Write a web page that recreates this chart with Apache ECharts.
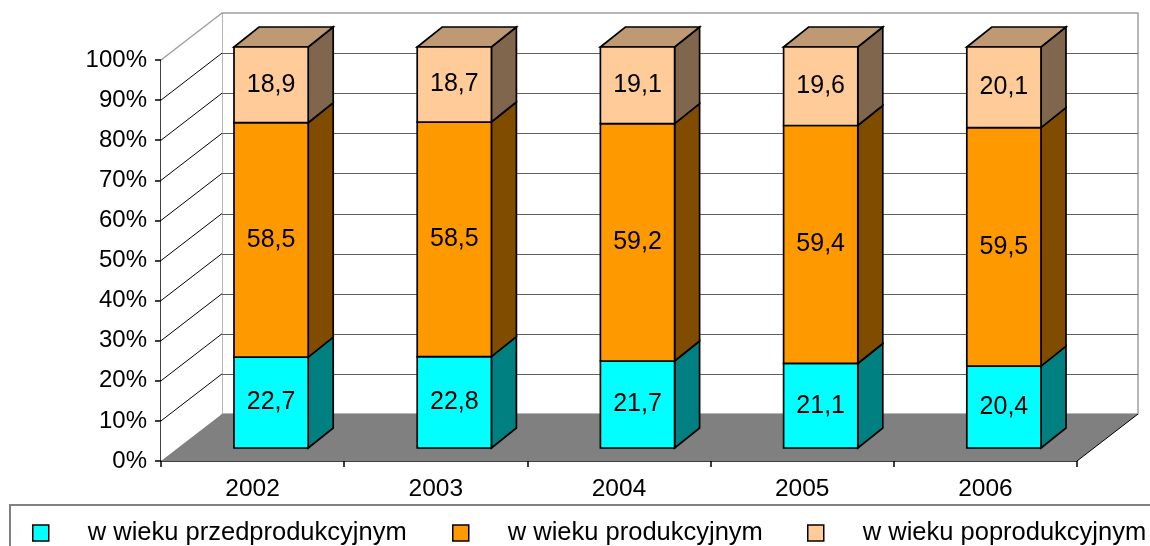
<!DOCTYPE html>
<html>
<head>
<meta charset="utf-8">
<script src="https://cdn.jsdelivr.net/npm/echarts@6/dist/echarts.min.js"></script>
<style>
html,body{margin:0;padding:0;background:#fff;}
#chart{width:1150px;height:546px;}
</style>
</head>
<body>
<div id="chart"></div>
<script>
// ---- data ----
const years = ['2002', '2003', '2004', '2005', '2006'];
const preWorking = [22.7, 22.8, 21.7, 21.1, 20.4];
const working = [58.5, 58.5, 59.2, 59.4, 59.5];
const postWorking = [18.9, 18.7, 19.1, 19.6, 20.1];
const seriesNames = ['w wieku przedprodukcyjnym', 'w wieku produkcyjnym', 'w wieku poprodukcyjnym'];
const yTicks = [0, 10, 20, 30, 40, 50, 60, 70, 80, 90, 100];

// ---- styles ----
const FONT = 'Liberation Sans, Arial, sans-serif';
const frontColors = ['#00FFFF', '#FF9900', '#FFCC99'];
const sideColors = ['#008080', '#804D00', '#80664D'];
const topColors = ['#00BFBF', '#BF7300', '#BF9973'];
const DEPTH = [61, -47];      // wall depth offset (px)
const BAR_OFF = [18.5, -13];  // bar front plane offset from axis plane
const BAR_DEPTH = [25, -20];  // bar depth
const BAR_RATIO = 0.405;

// build stacked (percent) data
const layers = [preWorking, working, postWorking];
const layerData = layers.map(() => []);
years.forEach((y, i) => {
  const total = layers.reduce((s, arr) => s + arr[i], 0);
  let cum = 0;
  layers.forEach((arr, k) => {
    const lo = cum / total * 100;
    cum += arr[i];
    const hi = cum / total * 100;
    layerData[k].push([i, lo, hi, arr[i]]);
  });
});

function makeBarRenderer(k) {
  const isTop = k === layers.length - 1;
  return function (params, api) {
    const cat = api.value(0);
    const lo = api.value(1), hi = api.value(2), raw = api.value(3);
    const pLo = api.coord([cat, lo]);
    const pHi = api.coord([cat, hi]);
    const band = api.size([1, 0])[0];
    const w = band * BAR_RATIO;
    const xl = pLo[0] - w / 2 + BAR_OFF[0];
    const xr = xl + w;
    const yb = pLo[1] + BAR_OFF[1];
    const yt = pHi[1] + BAR_OFF[1];
    const dx = BAR_DEPTH[0], dy = BAR_DEPTH[1];
    const stroke = { stroke: '#000', lineWidth: 1.7, lineJoin: 'miter' };
    const children = [
      { type: 'polygon', shape: { points: [[xr, yb], [xr + dx, yb + dy], [xr + dx, yt + dy], [xr, yt]] },
        style: Object.assign({ fill: sideColors[k] }, stroke) }
    ];
    if (isTop) {
      children.push({ type: 'polygon', shape: { points: [[xl, yt], [xl + dx, yt + dy], [xr + dx, yt + dy], [xr, yt]] },
        style: Object.assign({ fill: topColors[k] }, stroke) });
    }
    children.push({ type: 'rect', shape: { x: xl, y: yt, width: w, height: yb - yt },
      style: Object.assign({ fill: frontColors[k] }, stroke) });
    children.push({ type: 'text', x: (xl + xr) / 2, y: (yt + yb) / 2,
      style: { text: raw.toFixed(1).replace('.', ','), fill: '#000', fontSize: 25, fontFamily: FONT,
        align: 'center', verticalAlign: 'middle' } });
    return { type: 'group', children: children };
  };
}

function renderWalls(params, api) {
  const cs = params.coordSys;
  const t = api.value(1);
  const y = api.coord([0, t])[1];
  const L = cs.x, R = cs.x + cs.width, T = cs.y, B = cs.y + cs.height;
  const dx = DEPTH[0], dy = DEPTH[1];
  const children = [];
  if (params.dataIndex === 0) {
    children.push({ type: 'rect', shape: { x: L + dx, y: T + dy, width: cs.width, height: cs.height },
      style: { fill: '#fff', stroke: '#A0A0A0', lineWidth: 1.5 } });
    children.push({ type: 'polygon', shape: { points: [[L, T], [L + dx, T + dy], [L + dx, B + dy], [L, B]] },
      style: { fill: '#fff', stroke: null } });
  }
  if (t > 0 && t < 100) {
    const yy = Math.round(y + dy) + 0.5;
    children.push({ type: 'line', shape: { x1: L + dx, y1: yy, x2: R + dx, y2: yy },
      style: { stroke: '#606060', lineWidth: 1 } });
  }
  if (t > 0) {
    children.push({ type: 'line', shape: { x1: L, y1: y, x2: L + dx, y2: y + dy },
      style: { stroke: t === 100 ? '#A0A0A0' : '#000', lineWidth: t === 100 ? 1.5 : 1 } });
  }
  if (params.dataIndex === yTicks.length - 1) {
    children.push({ type: 'polygon', shape: { points: [[L, B], [R, B], [R + dx, B + dy], [L + dx, B + dy]] },
      style: { fill: '#808080', stroke: null } });
    children.push({ type: 'line', shape: { x1: R, y1: B, x2: R + dx, y2: B + dy },
      style: { stroke: '#000', lineWidth: 1 } });
  }
  return { type: 'group', children: children };
}

const chart = echarts.init(document.getElementById('chart'), null, { renderer: 'canvas' });

const series = [{
  type: 'custom', name: 'walls', silent: true, clip: false, z: 1,
  data: yTicks.map(t => [0, t]),
  encode: { x: 0, y: 1 },
  renderItem: renderWalls
}];
layerData.forEach((d, k) => {
  series.push({
    type: 'custom', name: seriesNames[k], clip: false, z: 2 + k,
    itemStyle: { color: frontColors[k] },
    data: d,
    encode: { x: 0, y: [1, 2] },
    renderItem: makeBarRenderer(k)
  });
});

const legendBase = {
  selectedMode: false, icon: 'rect', itemWidth: 16, itemHeight: 16, padding: 0,
  itemStyle: { borderColor: '#000', borderWidth: 1.5 },
  textStyle: { fontSize: 25.5, fontFamily: FONT, color: '#000', padding: [0, 0, 0, 34], lineHeight: 16 },
  top: 520
};
const legendLefts = [32, 452, 807];

chart.setOption({
  animation: false,
  backgroundColor: '#fff',
  textStyle: { fontFamily: FONT },
  grid: { left: 161, right: 73, top: 60, bottom: 85, containLabel: false },
  xAxis: {
    type: 'category', data: years, boundaryGap: true,
    axisLine: { show: true, lineStyle: { color: '#000', width: 1.5 } },
    axisTick: { show: true, length: 6, lineStyle: { color: '#000', width: 1.5 } },
    axisLabel: { fontSize: 24.5, color: '#000', margin: 16, fontFamily: FONT },
    splitLine: { show: false }
  },
  yAxis: {
    type: 'value', min: 0, max: 100, interval: 10,
    axisLine: { show: true, lineStyle: { color: '#000', width: 1.5 } },
    axisTick: { show: true, length: 6, lineStyle: { color: '#000', width: 1.5 } },
    axisLabel: { fontSize: 24, color: '#000', margin: 14, formatter: '{value}%', fontFamily: FONT },
    splitLine: { show: false }
  },
  legend: seriesNames.map((n, k) => Object.assign({}, legendBase, { data: [n], left: legendLefts[k] })),
  graphic: [{
    type: 'rect', silent: true, z: 0,
    shape: { x: 10, y: 505, width: 1200, height: 100 },
    style: { fill: 'none', stroke: '#808080', lineWidth: 2 }
  }],
  series: series
});
</script>
</body>
</html>
